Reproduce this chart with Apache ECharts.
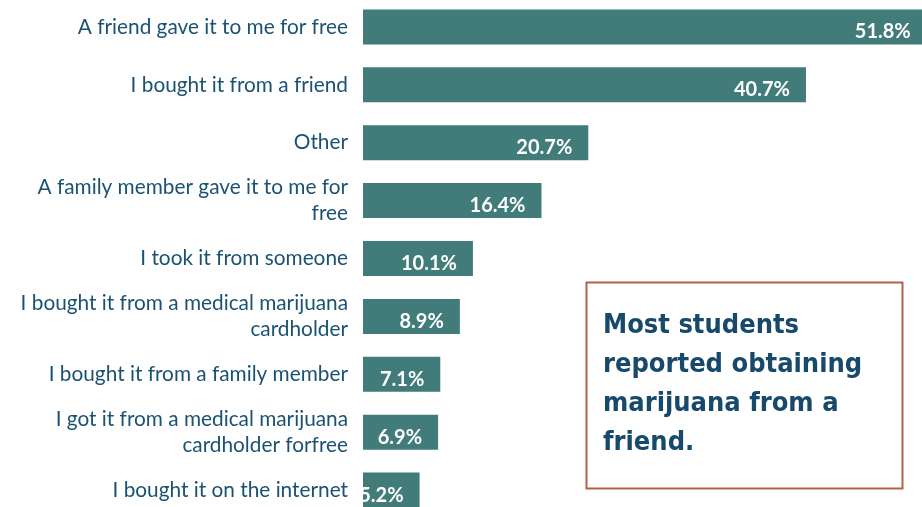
<!DOCTYPE html>
<html>
<head>
<meta charset="utf-8">
<script src="https://cdn.jsdelivr.net/npm/echarts@6/dist/echarts.min.js"></script>
<style>
html,body{margin:0;padding:0;background:#fff;}
#chart{width:922px;height:507px;}
</style>
</head>
<body>
<div id="chart"></div>
<script>
var categories = [
  "A friend gave it to me for free",
  "I bought it from a friend",
  "Other",
  "A family member gave it to me for\nfree",
  "I took it from someone",
  "I bought it from a medical marijuana\ncardholder",
  "I bought it from a family member",
  "I got it from a medical marijuana\ncardholder forfree",
  "I bought it on the internet"
];
var values = [51.8, 40.7, 20.7, 16.4, 10.1, 8.9, 7.1, 6.9, 5.2];
var calloutLines = ["Most students", "reported obtaining", "marijuana from a", "friend."];

var chart = echarts.init(document.getElementById('chart'), null, {renderer: 'canvas'});
chart.setOption({
  animation: false,
  backgroundColor: '#ffffff',
  grid: {left: 363, top: -2, width: 653, height: 521, containLabel: false, outerBoundsMode: 'none'},
  xAxis: {
    type: 'value', min: 0, max: 60,
    show: false
  },
  yAxis: {
    type: 'category',
    data: categories,
    inverse: true,
    axisLine: {show: false},
    axisTick: {show: false},
    axisLabel: {
      margin: 15,
      color: '#1b5272',
      fontFamily: 'Lato',
      fontSize: 20.8,
      lineHeight: 26,
      padding: [7, 0, 0, 0],
      align: 'right'
    }
  },
  series: [{
    type: 'bar',
    data: values,
    barWidth: 35,
    itemStyle: {color: '#417b7a'},
    label: {
      show: true,
      position: 'insideRight',
      offset: [-11, 5],
      formatter: function (p) { return p.value.toFixed(1) + '%'; },
      color: '#ffffff',
      fontFamily: 'Lato',
      fontWeight: 'bold',
      fontSize: 20
    }
  }],
  graphic: [{
    type: 'rect',
    shape: {x: 586.5, y: 282.5, width: 316, height: 206},
    style: {fill: '#ffffff', stroke: '#b5604a', lineWidth: 2}
  }, {
    type: 'text',
    x: 603, y: 306,
    style: {
      text: calloutLines.join('\n'),
      fill: '#17496b',
      font: 'bold 27px "DejaVu Sans Condensed"',
      lineHeight: 39
    }
  }]
});
</script>
</body>
</html>
